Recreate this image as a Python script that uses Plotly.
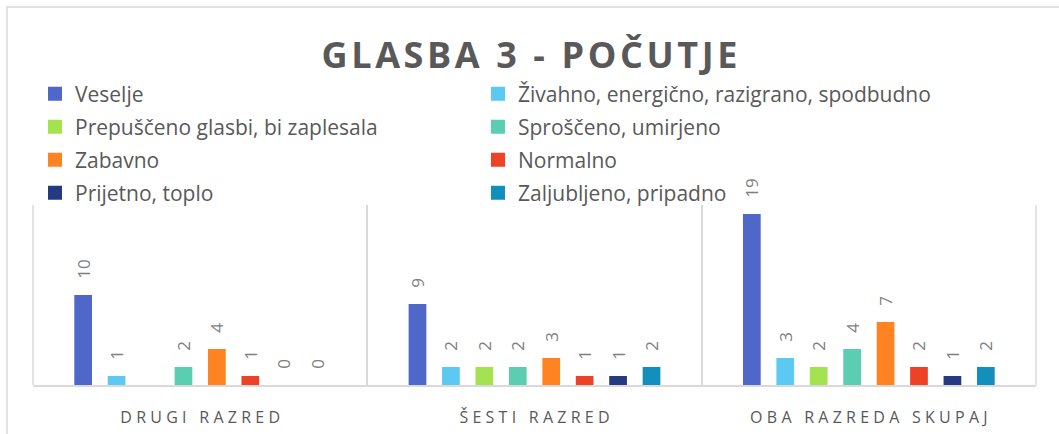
import plotly.graph_objects as go

categories = ["DRUGI RAZRED", "ŠESTI RAZRED", "OBA RAZREDA SKUPAJ"]
series_names = [
    "Veselje",
    "Živahno, energično, razigrano, spodbudno",
    "Prepuščeno glasbi, bi zaplesala",
    "Sproščeno, umirjeno",
    "Zabavno",
    "Normalno",
    "Prijetno, toplo",
    "Zaljubljeno, pripadno",
]
veselje = [10, 9, 19]
zivahno = [1, 2, 3]
prepusceno = [None, 2, 2]
sprosceno = [2, 2, 4]
zabavno = [4, 3, 7]
normalno = [1, 1, 2]
prijetno = [0, 1, 1]
zaljubljeno = [0, 2, 2]
series_values = [veselje, zivahno, prepusceno, sprosceno, zabavno, normalno, prijetno, zaljubljeno]
colors = ["#4F67C8", "#5BC9F2", "#A5E24F", "#5BCDB0", "#FF8323", "#EE4227", "#253A80", "#138FBE"]

TXT = "#595959"
GRID = "#D9D9D9"
FONT = "Open Sans"


def spaced(s, sep="\u2009"):
    return sep.join(list(s))


cat_labels = [spaced(c, "\u2009\u200a") for c in categories]

legend_ids = ["legend", "legend2", "legend3", "legend4"]

fig = go.Figure()
for name, vals, col in zip(series_names, series_values, colors):
    fig.add_trace(go.Bar(
        name=name,
        x=cat_labels,
        y=vals,
        marker=dict(color=col, line=dict(width=0)),
        texttemplate="\u00a0\u00a0\u00a0%{y}",
        textposition="outside",
        textangle=-90,
        constraintext="none",
        cliponaxis=False,
        textfont=dict(family=FONT, size=17, color="#7F7F7F"),
        showlegend=False,
        legendgroup=name,
    ))
# legend entries (square swatches), two per row
for i, (name, col) in enumerate(zip(series_names, colors)):
    extra = dict(legendwidth=398) if i % 2 == 0 else {}
    fig.add_trace(go.Scatter(
        name=name,
        x=[None], y=[None],
        mode="markers",
        marker=dict(symbol="square", size=14, color=col),
        legendgroup=name,
        legend=legend_ids[i // 2],
        showlegend=True,
        hoverinfo="skip",
        **extra,
    ))

W, H = 1059, 434
ml, mr, mt, mb = 33, 23, 205, 49
pw = W - ml - mr
ph = H - mt - mb


def px_to_paper_x(px):
    return (px - ml) / pw


def px_to_paper_y(py):
    return (H - mb - py) / ph


shapes = [
    dict(
        type="rect", xref="paper", yref="paper",
        x0=px_to_paper_x(7), x1=px_to_paper_x(W + 10),
        y0=px_to_paper_y(H + 10), y1=px_to_paper_y(7),
        line=dict(color=GRID, width=1.5),
        fillcolor="rgba(0,0,0,0)",
        layer="below",
    ),
]
for xp in (0, 1):
    shapes.append(dict(
        type="line", xref="paper", yref="paper",
        x0=xp, x1=xp, y0=0, y1=1,
        line=dict(color=GRID, width=1.5),
        layer="below",
    ))

row_centers = [94, 127, 160, 193]
legends = {}
for lid, yc in zip(legend_ids, row_centers):
    legends[lid] = dict(
        orientation="h",
        xref="container", yref="container",
        x=35 / W, xanchor="left",
        y=1 - yc / H, yanchor="middle",
        font=dict(family=FONT, size=21, color=TXT),
        bgcolor="rgba(0,0,0,0)",
        traceorder="normal",
        itemclick=False,
        itemdoubleclick=False,
    )

fig.update_layout(
    width=W,
    height=H,
    margin=dict(l=ml, r=mr, t=mt, b=mb, pad=0, autoexpand=False),
    paper_bgcolor="white",
    plot_bgcolor="white",
    barmode="group",
    bargap=0.2,
    bargroupgap=0.47,
    font=dict(family=FONT, color=TXT),
    title=dict(
        text="<b>" + spaced("GLASBA 3 - POČUTJE", "\u200a") + "</b>",
        x=0.5, xref="container", xanchor="center",
        y=1 - 55 / H, yref="container", yanchor="middle",
        font=dict(family=FONT, size=36, color=TXT),
    ),
    xaxis=dict(
        type="category",
        tickson="boundaries",
        showgrid=True,
        gridcolor=GRID,
        gridwidth=1.5,
        showline=True,
        linecolor=GRID,
        linewidth=1.5,
        ticks="",
        tickfont=dict(family=FONT, size=16, color=TXT),
        ticklabelstandoff=17,
        automargin=False,
        fixedrange=True,
    ),
    yaxis=dict(
        range=[0, 20],
        visible=False,
        showgrid=False,
        zeroline=False,
        automargin=False,
        fixedrange=True,
    ),
    showlegend=True,
    shapes=shapes,
    **legends,
)

fig.write_html(
    "out.html",
    config={"displayModeBar": False},
    post_script="document.body.style.margin='0';document.body.style.overflow='hidden';",
)
